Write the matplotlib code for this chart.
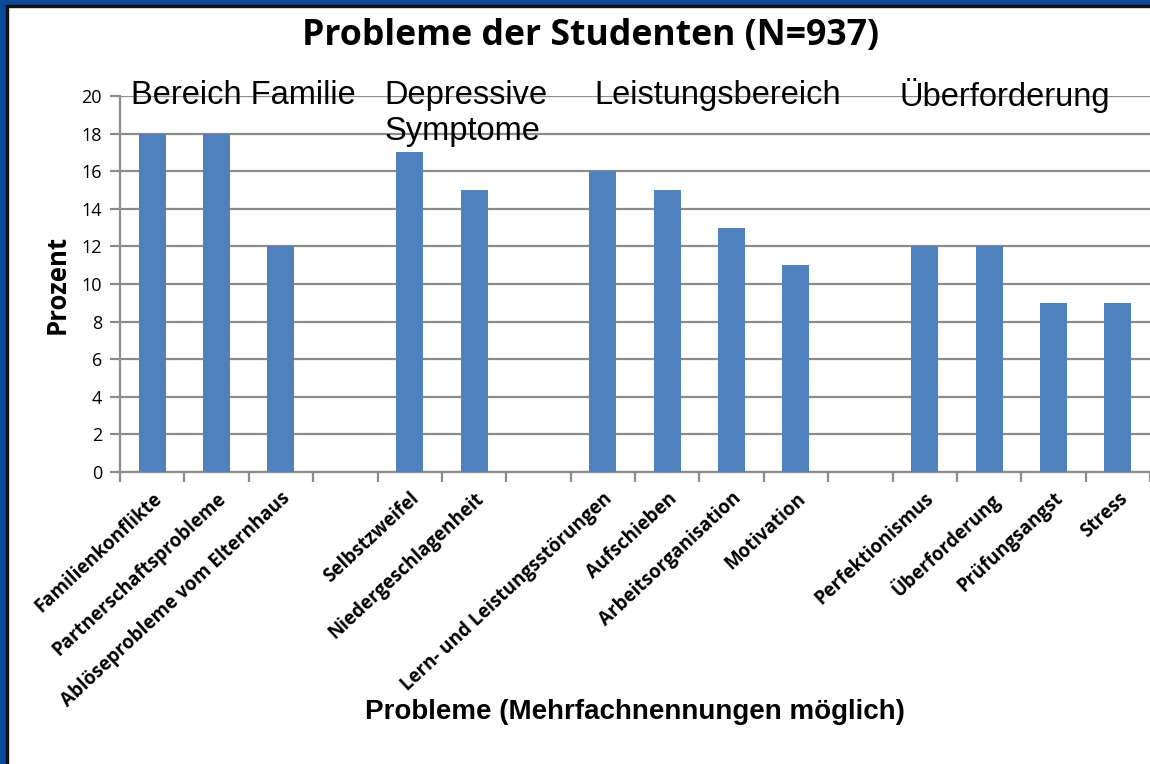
import matplotlib
import matplotlib.pyplot as plt
from matplotlib.patches import Rectangle

matplotlib.use("Agg")

# data
categories = [
    "Familienkonflikte", "Partnerschaftsprobleme", "Ablöseprobleme vom Elternhaus", "",
    "Selbstzweifel", "Niedergeschlagenheit", "",
    "Lern- und Leistungsstörungen", "Aufschieben", "Arbeitsorganisation", "Motivation", "",
    "Perfektionismus", "Überforderung", "Prüfungsangst", "Stress",
]
values = [18, 18, 12, 0, 17, 15, 0, 16, 15, 13, 11, 0, 12, 12, 9, 9]
group_lines = ["Bereich Familie", "Depressive", "Symptome", "Leistungsbereich", "Überforderung"]
group_x = [1.41, 3.61, 3.61, 8.78, 13.25]
group_y = [20, 20, 18.12, 20, 20]
group_ha = ["center", "left", "left", "center", "center"]
yticks = list(range(0, 21, 2))

W, H = 1150, 764
fig = plt.figure(figsize=(W / 100, H / 100), dpi=100)
fig.patch.set_facecolor("white")

# blue frame on top and left
blue = "#0B4A98"
fig.patches.append(Rectangle((0, 0), 6 / W, 1, transform=fig.transFigure, color=blue, zorder=0))
fig.patches.append(Rectangle((0, 1 - 5 / H), 1, 5 / H, transform=fig.transFigure, color=blue, zorder=0))
fig.patches.append(Rectangle((6 / W, 0), 1.5 / W, 1 - 5 / H, transform=fig.transFigure, color="#111111", zorder=0))
fig.patches.append(Rectangle((6 / W, 1 - 6.5 / H), 1, 1.5 / H, transform=fig.transFigure, color="#111111", zorder=0))

ax = fig.add_axes([120 / W, 1 - 472 / H, 1030 / W, 376 / H])
x = list(range(len(categories)))
ax.bar(x, values, width=0.42, color="#4F81BD", zorder=3)

ax.set_xlim(-0.5, len(categories) - 0.5)
ax.set_ylim(0, 20)
ax.set_yticks(yticks)
ax.set_yticklabels([str(v) for v in yticks], fontsize=13, family="Open Sans")
ax.grid(axis="y", color="#8C8C8C", linewidth=1.6, zorder=1)

# ticks at category boundaries, labels at centres
ax.set_xticks([i - 0.5 for i in range(len(categories) + 1)])
ax.set_xticklabels([])
ax.set_xticks(x, minor=True)
ax.set_xticklabels(categories, minor=True, rotation=43, ha="right", rotation_mode="anchor",
                   fontsize=13.5, fontweight="bold", family="Open Sans")
ax.tick_params(axis="x", which="major", length=7, width=1.6, color="#8C8C8C")
ax.tick_params(axis="x", which="minor", length=0, pad=12)
ax.tick_params(axis="y", length=7, width=1.6, color="#8C8C8C", pad=6)
for lab in ax.get_xticklabels(minor=True):
    lab.set_x(lab.get_position()[0] + 0.12)

for side in ["top", "right"]:
    ax.spines[side].set_visible(False)
for side in ["left", "bottom"]:
    ax.spines[side].set_color("#8C8C8C")
    ax.spines[side].set_linewidth(1.6)

for g, gx, gy, ha in zip(group_lines, group_x, group_y, group_ha):
    ax.text(gx, gy, g, ha=ha, va="center", fontsize=23.5, family="Liberation Sans", zorder=4)

ax.set_ylabel("Prozent", fontsize=18.5, fontweight="bold", family="Open Sans", labelpad=8)
fig.text(635 / W, 1 - 712 / H, "Probleme (Mehrfachnennungen möglich)", ha="center", va="center",
         fontsize=20, fontweight="bold", family="Liberation Sans")
fig.text(591 / W, 1 - 36 / H, "Probleme der Studenten (N=937)", ha="center", va="center",
         fontsize=25.7, fontweight="bold", family="Open Sans")

fig.savefig("out.png", dpi=100)
